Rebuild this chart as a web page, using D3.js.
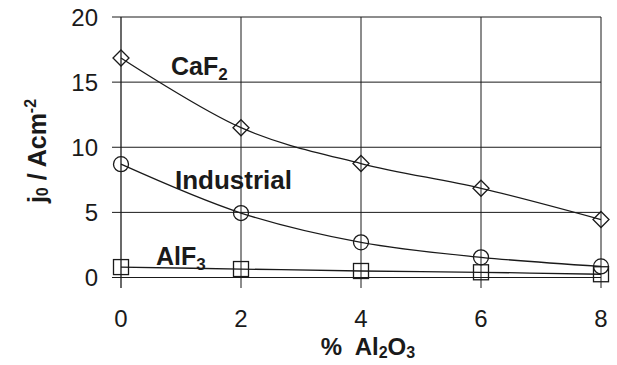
<!DOCTYPE html>
<html><head><meta charset="utf-8">
<script src="https://cdn.jsdelivr.net/npm/d3@7"></script>
<style>body{margin:0;background:#fff}svg{display:block}text{font-family:Arial,"Liberation Sans",sans-serif}</style>
</head><body><svg id="c" width="617" height="365"></svg>
<script>
const xValues = [0, 2, 4, 6, 8];
const caf2 = [16.85, 11.5, 8.75, 6.85, 4.45];
const industrial = [8.7, 4.95, 2.7, 1.55, 0.85];
const alf3 = [0.8, 0.65, 0.5, 0.4, 0.25];
const xTicks = [0, 2, 4, 6, 8];
const yTicks = [0, 5, 10, 15, 20];

const svg = d3.select("#c");
const x = d3.scaleLinear().domain([0, 8]).range([121, 601]);
const y = d3.scaleLinear().domain([0, 20]).range([277.5, 17]);
const ink = "#1a1a1a";

// grid
svg.append("g").selectAll("line").data(yTicks).join("line")
  .attr("x1", 112).attr("x2", x(8)).attr("y1", d => y(d)).attr("y2", d => y(d))
  .attr("stroke", ink).attr("stroke-width", 1);
svg.append("g").selectAll("line").data(xTicks).join("line")
  .attr("x1", d => x(d)).attr("x2", d => x(d)).attr("y1", y(20)).attr("y2", 288)
  .attr("stroke", ink).attr("stroke-width", d => d === 0 ? 1.3 : 1);

// tick labels
svg.append("g").selectAll("text").data(yTicks).join("text")
  .attr("x", 98).attr("y", d => y(d) + 8.5).attr("text-anchor", "end")
  .attr("font-size", 24).attr("fill", ink).text(d => d);
svg.append("g").selectAll("text").data(xTicks).join("text")
  .attr("x", d => x(d)).attr("y", 327).attr("text-anchor", "middle")
  .attr("font-size", 24).attr("fill", ink).text(d => d);

const line = d3.line().x((d, i) => x(xValues[i])).y(d => y(d)).curve(d3.curveCatmullRom.alpha(0));
function series(vals) {
  svg.append("path").datum(vals).attr("d", line).attr("fill", "none")
    .attr("stroke", ink).attr("stroke-width", 1.3);
}
series(caf2); series(industrial); series(alf3);

// markers
const g = svg.append("g").attr("fill", "none").attr("stroke", ink).attr("stroke-width", 1.3);
g.selectAll(".dia").data(caf2).join("path").attr("class", "dia")
  .attr("d", (d, i) => { const cx = x(xValues[i]), cy = y(d), r = 8;
    return `M${cx},${cy - r}L${cx + r},${cy}L${cx},${cy + r}L${cx - r},${cy}Z`; });
g.selectAll(".cir").data(industrial).join("circle").attr("class", "cir")
  .attr("cx", (d, i) => x(xValues[i])).attr("cy", d => y(d)).attr("r", 7.5);
g.selectAll(".sq").data(alf3).join("rect").attr("class", "sq")
  .attr("x", (d, i) => x(xValues[i]) - 7.5).attr("y", d => y(d) - 7.5)
  .attr("width", 15).attr("height", 15);

// series labels
function label(xp, yp, main, sub, fs) {
  const t = svg.append("text").attr("x", xp).attr("y", yp).attr("font-size", fs)
    .attr("font-weight", "bold").attr("fill", ink);
  t.append("tspan").text(main);
  if (sub) t.append("tspan").attr("font-size", 17).attr("dy", 5).text(sub);
}
label(171, 75, "CaF", "2", 25);
label(175, 189, "Industrial", null, 26);
label(156, 265, "AlF", "3", 25);

// axis titles
const xt = svg.append("text").attr("x", 368).attr("y", 355).attr("text-anchor", "middle")
  .attr("font-size", 24).attr("font-weight", "bold").attr("fill", ink);
xt.append("tspan").text("%\u00a0 Al");
xt.append("tspan").attr("font-size", 16).attr("dy", 3).text("2");
xt.append("tspan").attr("dy", -3).text("O");
xt.append("tspan").attr("font-size", 16).attr("dy", 3).text("3");

const yt = svg.append("text").attr("transform", "translate(46,151) rotate(-90)")
  .attr("text-anchor", "middle").attr("font-size", 25).attr("font-weight", "bold").attr("fill", ink);
yt.append("tspan").text("j");
yt.append("tspan").attr("font-size", 16).attr("dy", 2).text("0");
yt.append("tspan").attr("dy", -2).text(" / Acm");
yt.append("tspan").attr("font-size", 16).attr("dy", -10).text("-2");
</script></body></html>
